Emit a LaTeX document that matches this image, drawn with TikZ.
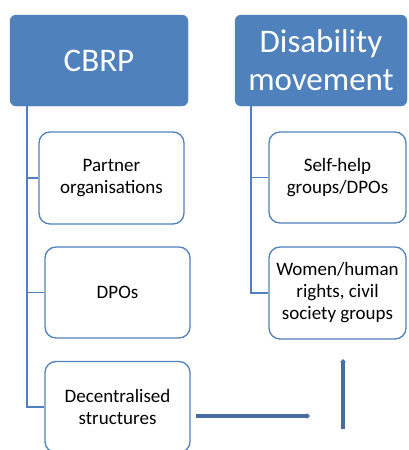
\documentclass[tikz,border=0pt]{standalone}
\usepackage{fontspec}
\setmainfont{Carlito}
\usetikzlibrary{arrows.meta}

\begin{document}
\begin{tikzpicture}[x=1pt,y=-1pt,
	head/.style={fill=accent,draw=accent,rounded corners=6pt,text=white,
		align=center,inner sep=0pt,font=\fontsize{33}{38}\selectfont},
	item/.style={fill=white,draw=accent,line width=1.3pt,rounded corners=11pt,
		align=center,inner sep=0pt,font=\fontsize{19}{22}\selectfont},
	tree/.style={draw=accent,line width=1.4pt},
	flow/.style={draw=flowblue,line width=3.5pt,-{Triangle[length=3pt,width=5.5pt]}}]
	\definecolor{accent}{RGB}{79,129,189}
	\definecolor{flowblue}{RGB}{72,108,156}

	\useasboundingbox (0,0) rectangle (408,450);

	% headers
	\node[head,minimum width=178pt,minimum height=91pt] (cbrp) at (99,60.5) {CBRP};
	\node[head,minimum width=172pt,minimum height=91pt] (disab) at (321,60.5) {Disability\\movement};

	% CBRP side
	\node[item,minimum width=145pt,minimum height=92pt] (partner) at (111.5,178) {Partner\\organisations};
	\node[item,minimum width=145pt,minimum height=91pt] (dpos) at (117.5,292.5) {DPOs};
	\node[item,minimum width=145pt,minimum height=91pt] (decentral) at (117.5,407) {Decentralised\\structures};

	% disability movement side
	\node[item,minimum width=137pt,minimum height=91pt] (selfhelp) at (337.5,177.5) {Self-help\\groups/DPOs};
	\node[item,minimum width=137pt,minimum height=92pt] (women) at (337.5,293) {Women/human\\rights, civil\\society groups};

	\draw[tree] ([xshift=17pt]cbrp.south west) |- (partner.west);
	\draw[tree] ([xshift=17pt]cbrp.south west) |- (dpos.west);
	\draw[tree] ([xshift=17pt]cbrp.south west) |- (decentral.west);
	\draw[tree] ([xshift=16pt]disab.south west) |- (selfhelp.west);
	\draw[tree] ([xshift=16pt]disab.south west) |- (women.west);

	% arrows
	\coordinate (harrow) at (310,416);
	\coordinate (vbot) at (343,429);
	\coordinate (vtop) at (343,359);
	\draw[flow,shorten <=5pt] (decentral.east |- harrow) -- (harrow);
	\draw[flow] (vbot) -- (vtop);
\end{tikzpicture}
\end{document}
